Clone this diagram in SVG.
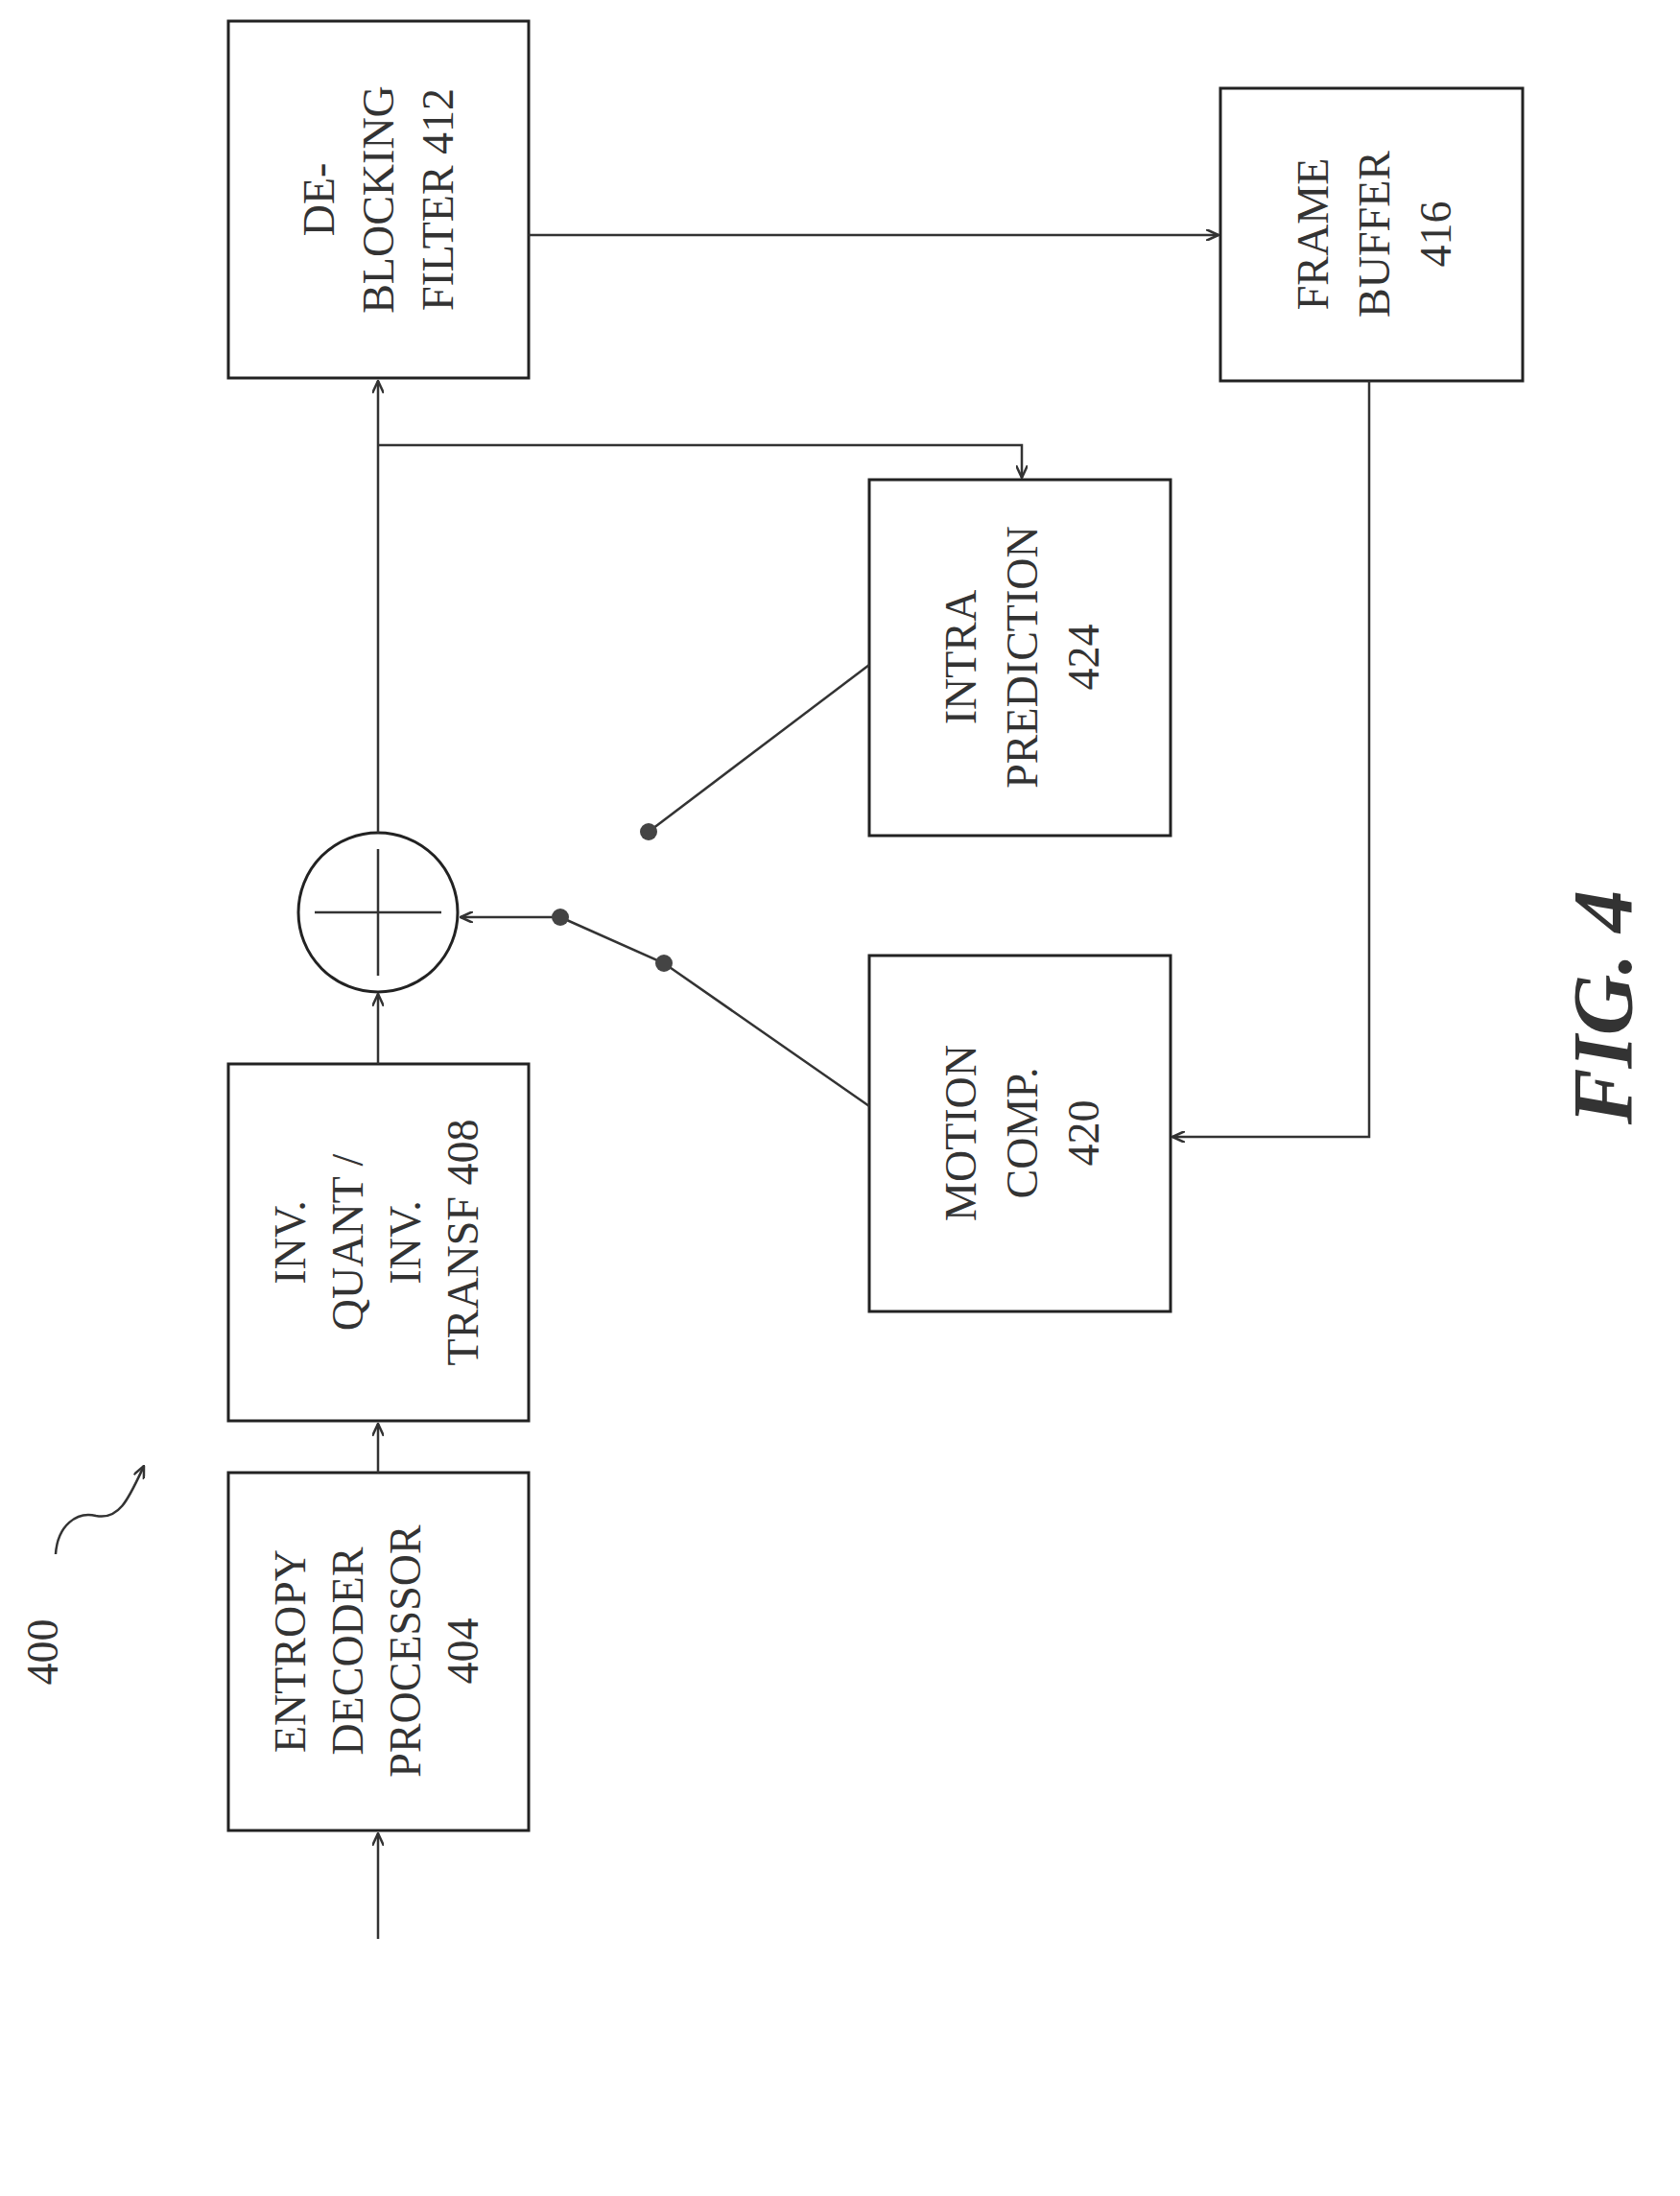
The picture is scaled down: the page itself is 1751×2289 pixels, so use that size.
<svg xmlns="http://www.w3.org/2000/svg" width="1751" height="2289" viewBox="0 0 1751 2289">
<style>
.b{fill:#fff;stroke:#222;stroke-width:3}
.l{fill:none;stroke:#333;stroke-width:2.5}
.t{font-family:"Liberation Serif",serif;font-size:46px;fill:#333;text-anchor:middle}
</style>
<defs><marker id="a" markerWidth="14" markerHeight="12" refX="13" refY="6" orient="auto" markerUnits="userSpaceOnUse"><path d="M0,0 L13,6 L0,12" fill="none" stroke="#333" stroke-width="2.5"/></marker></defs>
<rect width="1751" height="2289" fill="#fff"/>
<g id="entropy"><rect class="b" x="238" y="1535" width="313" height="373"/><text class="t" transform="translate(394,1721) rotate(-90)"><tspan x="0" dy="-76">ENTROPY</tspan><tspan x="0" dy="60">DECODER</tspan><tspan x="0" dy="60">PROCESSOR</tspan><tspan x="0" dy="60">404</tspan></text></g>
<g id="invquant"><rect class="b" x="238" y="1109" width="313" height="372"/><text class="t" transform="translate(394,1295) rotate(-90)"><tspan x="0" dy="-76">INV.</tspan><tspan x="0" dy="60">QUANT /</tspan><tspan x="0" dy="60">INV.</tspan><tspan x="0" dy="60">TRANSF 408</tspan></text></g>
<g id="deblock"><rect class="b" x="238" y="22" width="313" height="372"/><text class="t" transform="translate(394,208) rotate(-90)"><tspan x="0" dy="-46">DE-</tspan><tspan x="0" dy="62">BLOCKING</tspan><tspan x="0" dy="62">FILTER 412</tspan></text></g>
<g id="framebuf"><rect class="b" x="1272" y="92" width="315" height="305"/><text class="t" transform="translate(1430,244) rotate(-90)"><tspan x="0" dy="-46">FRAME</tspan><tspan x="0" dy="64">BUFFER</tspan><tspan x="0" dy="64">416</tspan></text></g>
<g id="intra"><rect class="b" x="906" y="500" width="314" height="371"/><text class="t" transform="translate(1063,685) rotate(-90)"><tspan x="0" dy="-46">INTRA</tspan><tspan x="0" dy="64">PREDICTION</tspan><tspan x="0" dy="64">424</tspan></text></g>
<g id="motion"><rect class="b" x="906" y="996" width="314" height="371"/><text class="t" transform="translate(1063,1181) rotate(-90)"><tspan x="0" dy="-46">MOTION</tspan><tspan x="0" dy="64">COMP.</tspan><tspan x="0" dy="64">420</tspan></text></g>
<g id="sum"><circle class="b" cx="394" cy="951" r="83"/><path class="l" d="M394,885 V1017 M328,951 H460"/></g>
<g id="connectors">
<path class="l" d="M394,2021 V1911" marker-end="url(#a)"/>
<path class="l" d="M394,1535 V1484" marker-end="url(#a)"/>
<path class="l" d="M394,1109 V1036" marker-end="url(#a)"/>
<path class="l" d="M394,868 V397" marker-end="url(#a)"/>
<path class="l" d="M394,464 H1065 V498" marker-end="url(#a)"/>
<path class="l" d="M551,245 H1270" marker-end="url(#a)"/>
<path class="l" d="M1427,397 V1185 H1222" marker-end="url(#a)"/>
<path class="l" d="M584,956 H480" marker-end="url(#a)"/>
<path class="l" d="M584,956 L692,1004 L906,1153"/>
<path class="l" d="M676,867 L906,693"/>
<circle cx="584" cy="956" r="9" fill="#444"/><circle cx="692" cy="1004" r="9" fill="#444"/><circle cx="676" cy="867" r="9" fill="#444"/>
</g>
<g id="label400"><text class="t" transform="translate(60,1722) rotate(-90)" font-size="42">400</text><path class="l" d="M58,1620 C60,1590 80,1575 100,1580 C125,1585 135,1560 150,1528" marker-end="url(#a)"/></g>
<text transform="translate(1700,1050) rotate(-90)" style="font-family:'Liberation Serif',serif;font-size:88px;font-weight:bold;font-style:italic;fill:#333;text-anchor:middle">FIG. 4</text>
</svg>
